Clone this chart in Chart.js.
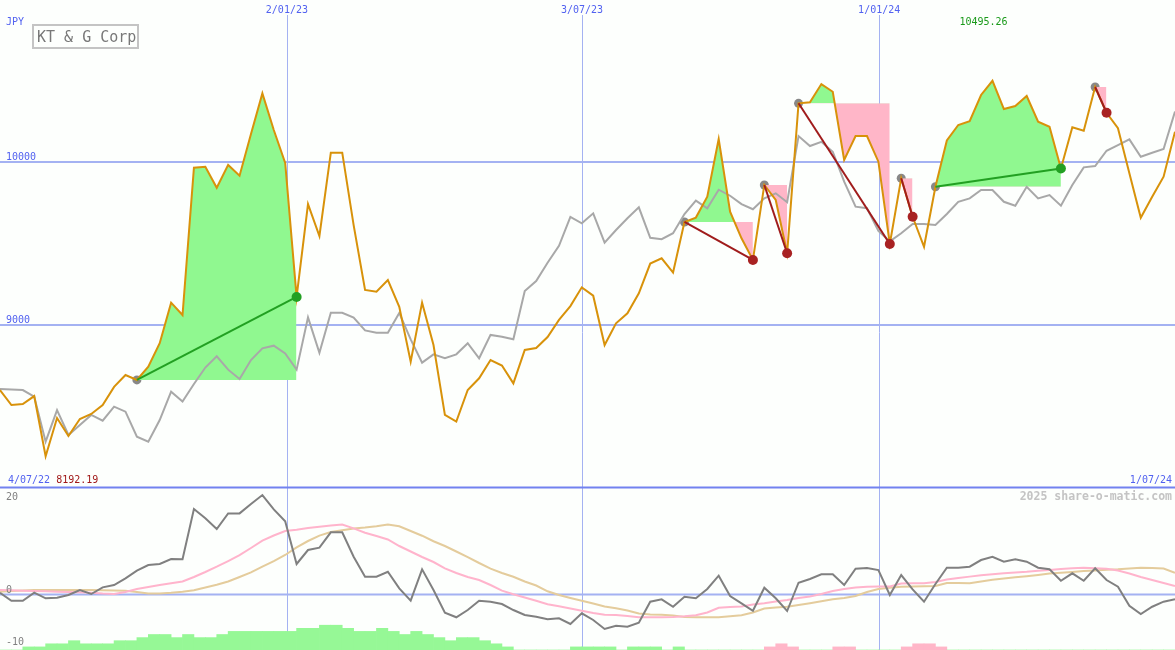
<!DOCTYPE html>
<html>
<head>
<meta charset="utf-8">
<script src="https://cdn.jsdelivr.net/npm/chart.js@4"></script>
<style>
html, body { margin: 0; padding: 0; background: #fdfffd; }
#wrap { position: relative; width: 1175px; height: 650px; }
</style>
</head>
<body>
<div id="wrap"><canvas id="myChart" width="1175" height="650"></canvas></div>
<script>
// weekly closes, KT&G (JPY), and the grey comparison line
const priceVals = [8598, 8506, 8512, 8561, 8192.19, 8426, 8316, 8420, 8451, 8506,
  8617, 8690, 8660, 8741, 8885, 9134, 9058, 9962, 9968, 9839,
  9979, 9913, 10169, 10418, 10193, 9991, 9169, 9739, 9543, 10054,
  10054, 9610, 9212, 9201, 9273, 9109, 8772, 9134, 8874, 8445,
  8404, 8598, 8670, 8782, 8748, 8639, 8844, 8856, 8923, 9028,
  9113, 9228, 9177, 8874, 9007, 9069, 9191, 9374, 9406, 9319,
  9629, 9656, 9784, 10138, 9692, 9529, 9396, 9856, 9764, 9437,
  10357, 10363, 10475, 10428, 10009, 10156, 10156, 9999, 9494, 9897,
  9661, 9477, 9845, 10129, 10224, 10248, 10408, 10495.26, 10322, 10340,
  10402, 10244, 10213, 9957, 10210, 10189, 10457, 10299, 10204, 9928,
  9655, 9784, 9907, 10183];
const relVals = [8604, 8601, 8598, 8557, 8281, 8475, 8322, 8383, 8445, 8410,
  8496, 8465, 8312, 8281, 8414, 8588, 8528, 8635, 8736, 8805,
  8723, 8666, 8782, 8854, 8870, 8823, 8723, 9044, 8827, 9072,
  9072, 9042, 8964, 8950, 8950, 9071, 8909, 8766, 8817, 8793,
  8817, 8885, 8793, 8936, 8925, 8909, 9206, 9267, 9379, 9483,
  9660, 9621, 9682, 9502, 9580, 9652, 9719, 9532, 9523, 9560,
  9678, 9760, 9713, 9827, 9790, 9739, 9707, 9774, 9805, 9750,
  10156, 10095, 10121, 10060, 9876, 9723, 9713, 9575, 9510, 9560,
  9617, 9617, 9610, 9678, 9753, 9774, 9825, 9825, 9753, 9729,
  9845, 9774, 9794, 9729, 9856, 9964, 9972, 10066, 10101, 10136,
  10029, 10054, 10077, 10306];

// lower panel
const oscVals = [0.35, -1.19, -1.19, 0.35, -0.73, -0.62, -0.1, 0.87, 0.1, 1.38,
  1.83, 3.12, 4.58, 5.67, 5.87, 6.83, 6.77, 16.44, 14.65, 12.6,
  15.6, 15.6, 17.4, 19.13, 16.38, 14.08, 5.87, 8.56, 9.0, 11.96,
  11.96, 7.27, 3.42, 3.42, 4.38, 1.19, -1.19, 4.85, 0.87, -3.5,
  -4.38, -2.98, -1.19, -1.38, -1.83, -2.98, -3.94, -4.27, -4.77, -4.58,
  -5.67, -3.62, -4.9, -6.63, -6.0, -6.19, -5.42, -1.38, -0.92, -2.35,
  -0.42, -0.73, 1.06, 3.62, -0.29, -1.69, -3.12, 1.31, -0.73, -3.17,
  2.27, 2.98, 3.88, 3.88, 1.83, 4.96, 5.1, 4.71, -0.1, 3.75,
  1.0, -1.38, 2.02, 5.15, 5.15, 5.35, 6.63, 7.27, 6.31, 6.77,
  6.31, 5.15, 4.85, 2.65, 4.08, 2.65, 5.04, 2.79, 1.5, -2.15,
  -3.75, -2.35, -1.38, -0.92];
const oscFast = [0.87, 0.8, 0.73, 0.67, 0.62, 0.54, 0.48, 0.42, 0.35, 0.19,
  0.1, 0.48, 1.06, 1.44, 1.83, 2.15, 2.5, 3.37, 4.33, 5.35,
  6.44, 7.56, 8.94, 10.38, 11.35, 12.21, 12.46, 12.79, 13.04, 13.27,
  13.46, 12.71, 11.88, 11.25, 10.58, 9.33, 8.27, 7.21, 6.25, 5.04,
  4.13, 3.37, 2.79, 1.83, 0.75, 0.04, -0.58, -1.21, -1.87, -2.27,
  -2.69, -3.12, -3.56, -3.87, -3.94, -4.13, -4.37, -4.38, -4.38, -4.33,
  -4.19, -4.0, -3.46, -2.54, -2.4, -2.31, -1.92, -1.67, -1.35, -1.06,
  -0.67, -0.38, 0.1, 0.67, 1.06, 1.35, 1.5, 1.54, 1.54, 2.12,
  2.15, 2.15, 2.4, 2.88, 3.17, 3.44, 3.71, 3.88, 4.08, 4.23,
  4.37, 4.56, 4.71, 4.9, 5.04, 5.13, 5.06, 4.94, 4.63, 4.04,
  3.37, 2.79, 2.21, 1.63];
const oscSlow = [0.54, 0.67, 0.77, 0.87, 0.87, 0.87, 0.87, 0.87, 0.87, 0.81,
  0.75, 0.71, 0.48, 0.19, 0.19, 0.33, 0.52, 0.83, 1.35, 1.88,
  2.5, 3.37, 4.27, 5.37, 6.44, 7.6, 9.06, 10.29, 11.33, 12.02,
  12.35, 12.69, 12.87, 13.12, 13.44, 13.12, 12.21, 11.31, 10.25, 9.33,
  8.27, 7.21, 6.06, 4.98, 4.15, 3.42, 2.5, 1.73, 0.62, -0.1,
  -0.67, -1.19, -1.73, -2.31, -2.65, -3.08, -3.65, -3.85, -3.9, -4.04,
  -4.33, -4.38, -4.38, -4.38, -4.19, -3.98, -3.46, -2.69, -2.5, -2.35,
  -2.02, -1.67, -1.29, -0.92, -0.67, -0.29, 0.48, 1.06, 1.31, 1.5,
  1.54, 1.6, 1.63, 2.21, 2.21, 2.15, 2.5, 2.83, 3.08, 3.31,
  3.52, 3.75, 4.02, 4.17, 4.33, 4.52, 4.63, 4.75, 4.85, 5.0,
  5.15, 5.12, 5.0, 4.19];
// one bar per week gap, + green / - pink
const histVals = [0, 0, 1, 1, 2, 2, 3, 2, 2, 2,
  3, 3, 4, 5, 5, 4, 5, 4, 4, 5,
  6, 6, 6, 6, 6, 6, 7, 7, 8, 8,
  7, 6, 6, 7, 6, 5, 6, 5, 4, 3,
  4, 4, 3, 2, 1, 0, 0, 0, 0, 0,
  1, 1, 1, 1, 0, 1, 1, 1, 0, 1,
  0, 0, 0, 0, 0, 0, 0, -1, -2, -1,
  0, 0, 0, -1, -1, 0, 0, 0, 0, -1,
  -2, -2, -1, 0, 0, 0, 0, 0, 0, 0,
  0, 0, 0, 0, 0, 0, 0, 0, 0, 0,
  0, 0, 0];

// trend signals (week index of start and end)
const trendStart = [12, 60, 67, 70, 79, 82, 96];
const trendEnd = [26, 66, 69, 78, 80, 93, 97];

const dateLabels = ["2/01/23", "3/07/23", "1/01/24"];
const datePos = [25.15, 51.02, 77.07];
const firstDate = "4/07/22";
const lastDate = "1/07/24";
const priceTicks = [9000, 10000];
const oscTicks = [20, 0, -10];

const GREEN_FILL = "#90f890";
const PINK_FILL = "#ffb6c8";
const GRID = "#a4b2f2";
const BLUE_TXT = "#5262f0";
const MONO = "'DejaVu Sans Mono', monospace";

function pts(arr) {
  return arr.map((v, i) => ({ x: i, y: v }));
}

let ds = [];
// end markers on top
ds.push({
  data: trendEnd.map(e => ({ x: e, y: priceVals[e] })),
  showLine: false, pointRadius: 5, pointBorderWidth: 0,
  pointBackgroundColor: trendEnd.map((e, j) => priceVals[e] >= priceVals[trendStart[j]] ? "#22a022" : "#a82222"),
  order: 1
});
trendStart.forEach((s, j) => {
  let e = trendEnd[j];
  let up = priceVals[e] >= priceVals[s];
  ds.push({
    data: [{ x: s, y: priceVals[s] }, { x: e, y: priceVals[e] }],
    borderColor: up ? "#22a022" : "#a01c1c", borderWidth: 2, pointRadius: 0, order: 2
  });
});
ds.push({ data: pts(priceVals), borderColor: "#d8920a", borderWidth: 2, pointRadius: 0, order: 3 });
ds.push({ data: pts(relVals), borderColor: "#a8a8a8", borderWidth: 2, pointRadius: 0, order: 4 });
trendStart.forEach((s, j) => {
  let e = trendEnd[j];
  let seg = [], base = [];
  for (let k = s; k <= e; k++) {
    seg.push({ x: k, y: priceVals[k] });
    base.push({ x: k, y: priceVals[s] });
  }
  ds.push({
    data: seg, borderWidth: 0, borderColor: "transparent", pointRadius: 0,
    fill: { target: "+1", above: GREEN_FILL, below: PINK_FILL }, order: 5
  });
  ds.push({ data: base, borderWidth: 0, borderColor: "transparent", pointRadius: 0, fill: false, order: 5 });
});
ds.push({
  data: trendStart.map(s => ({ x: s, y: priceVals[s] })),
  showLine: false, pointRadius: 4.5, pointBorderWidth: 0, pointBackgroundColor: "#888888", order: 6
});
ds.push({ data: pts(oscVals), yAxisID: "yl", borderColor: "#808080", borderWidth: 2, pointRadius: 0, order: 7 });
ds.push({ data: pts(oscFast), yAxisID: "yl", borderColor: "#ffb4cc", borderWidth: 2, pointRadius: 0, order: 8 });
ds.push({ data: pts(oscSlow), yAxisID: "yl", borderColor: "#e4cc9c", borderWidth: 2, pointRadius: 0, order: 9 });
ds.push({
  type: "bar", yAxisID: "yh",
  data: histVals.map((v, i) => ({ x: i + 0.5, y: Math.abs(v) })),
  backgroundColor: histVals.map(v => v >= 0 ? "#96f896" : PINK_FILL),
  barPercentage: 1, categoryPercentage: 1, borderWidth: 0, order: 10
});

const panels = {
  id: "panels",
  beforeDatasetsDraw(chart) {
    const ctx = chart.ctx;
    const xs = chart.scales.x, ys = chart.scales.y, yl = chart.scales.yl;
    const bottom = chart.chartArea.bottom;
    const divY = Math.round(ys.getPixelForValue(8000));
    ctx.save();
    ctx.strokeStyle = GRID;
    ctx.lineWidth = 2;
    priceTicks.forEach(t => {
      let y = Math.round(ys.getPixelForValue(t));
      ctx.beginPath(); ctx.moveTo(0, y); ctx.lineTo(1175, y); ctx.stroke();
    });
    let zy = yl.getPixelForValue(0);
    ctx.beginPath(); ctx.moveTo(0, zy); ctx.lineTo(1175, zy); ctx.stroke();
    ctx.lineWidth = 1;
    datePos.forEach(p => {
      let x = Math.round(xs.getPixelForValue(p)) + 0.5;
      ctx.beginPath(); ctx.moveTo(x, 15); ctx.lineTo(x, bottom); ctx.stroke();
    });
    ctx.strokeStyle = "#7282f0";
    ctx.lineWidth = 2;
    ctx.beginPath(); ctx.moveTo(0, divY - 0.5); ctx.lineTo(1175, divY - 0.5); ctx.stroke();
    ctx.restore();
  },
  afterDatasetsDraw(chart) {
    const ctx = chart.ctx;
    const xs = chart.scales.x, ys = chart.scales.y, yl = chart.scales.yl;
    ctx.save();
    ctx.font = "10px " + MONO;
    ctx.fillStyle = BLUE_TXT;
    ctx.textBaseline = "alphabetic";
    ctx.textAlign = "left";
    ctx.fillText("JPY", 6, 25);
    priceTicks.forEach(t => ctx.fillText(String(t), 6, ys.getPixelForValue(t) - 2));
    ctx.textAlign = "center";
    dateLabels.forEach((d, i) => ctx.fillText(d, xs.getPixelForValue(datePos[i]), 13));
    ctx.textAlign = "left";
    ctx.fillText(firstDate, 8, 483);
    ctx.textAlign = "right";
    ctx.fillText(lastDate, 1172, 483);

    let maxV = Math.max(...priceVals), minV = Math.min(...priceVals);
    ctx.textAlign = "center";
    ctx.fillStyle = "#1a9a1a";
    ctx.fillText(maxV.toFixed(2), xs.getPixelForValue(priceVals.indexOf(maxV)) - 9, 25);
    ctx.textAlign = "left";
    ctx.fillStyle = "#a01818";
    ctx.fillText(minV.toFixed(2), 8 + ctx.measureText(firstDate + " ").width, 483);

    ctx.fillStyle = "#808080";
    oscTicks.forEach(t => {
      let y = yl.getPixelForValue(t);
      ctx.fillText(String(t), 6, t === oscTicks[0] ? y + 9 : y - 2);
    });

    ctx.font = "bold 11.5px " + MONO;
    ctx.fillStyle = "#c4c4c4";
    ctx.textAlign = "right";
    ctx.fillText("2025 share-o-matic.com", 1172, 500);

    // title box
    ctx.strokeStyle = "#c4c4c4";
    ctx.lineWidth = 2;
    ctx.strokeRect(33, 25, 105, 23);
    ctx.font = "15px " + MONO;
    ctx.fillStyle = "#787878";
    ctx.textAlign = "left";
    ctx.fillText("KT & G Corp", 37, 42);
    ctx.restore();
  }
};

new Chart("myChart", {
  type: "line",
  data: { datasets: ds },
  options: {
    responsive: false,
    animation: false,
    events: [],
    layout: { padding: 0, autoPadding: false },
    elements: { line: { tension: 0 } },
    plugins: { legend: { display: false }, tooltip: { enabled: false } },
    scales: {
      x: { type: "linear", min: 0, max: 103, display: false, offset: false },
      y: { min: 7003.1, max: 10990.8, display: false },
      yl: { min: -10.67, max: 114.33, display: false },
      yh: { min: 0, max: 209.7, display: false }
    }
  },
  plugins: [panels]
});
</script>
</body>
</html>
